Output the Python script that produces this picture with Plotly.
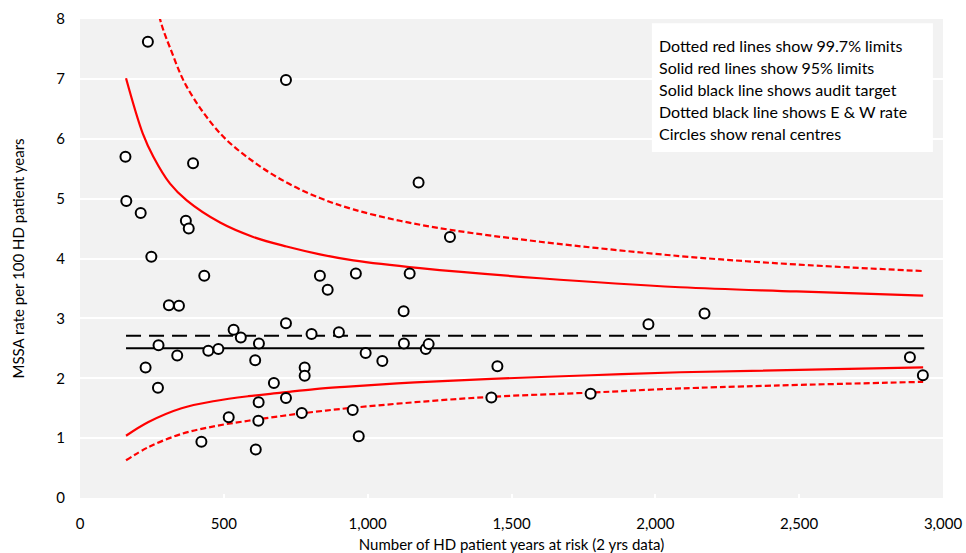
import plotly.graph_objects as go

# ---- Renal centres (patient years at risk, MSSA rate per 100 HD patient years) ----
centre_years = [158, 161, 211, 236, 248, 228, 271, 273, 309, 344, 338, 368, 378, 393,
                432, 422, 446, 481, 517, 534, 559, 609, 622, 611, 621, 620, 674, 716,
                716, 716, 771, 781, 781, 805, 834, 861, 900, 959, 948, 969, 993, 1051,
                1125, 1126, 1146, 1177, 1202, 1212, 1286, 1430, 1451, 1775, 1976, 2171,
                2885, 2930]
centre_rates = [5.70, 4.96, 4.76, 7.62, 4.03, 2.18, 1.84, 2.55, 3.22, 3.21, 2.38, 4.63,
                4.50, 5.59, 3.71, 0.94, 2.46, 2.49, 1.35, 2.81, 2.68, 2.30, 2.58, 0.81,
                1.60, 1.29, 1.92, 6.98, 2.92, 1.67, 1.42, 2.18, 2.04, 2.74, 3.71, 3.48,
                2.77, 3.75, 1.47, 1.03, 2.42, 2.29, 3.12, 2.58, 3.75, 5.27, 2.49, 2.57,
                4.36, 1.68, 2.20, 1.74, 2.90, 3.08, 2.35, 2.05]

# ---- Control limits ----
upper95_x = [160, 218, 255, 313, 371, 487, 602, 718, 834, 950, 1182, 1599, 2086, 2491, 2931]
upper95 = [7.01, 6.09, 5.70, 5.25, 4.97, 4.60, 4.36, 4.20, 4.07, 3.97, 3.84, 3.67, 3.52, 3.45, 3.38]

upper997_x = [160, 218, 255, 278, 290, 313, 371, 487, 602, 718, 834, 950, 1112, 1286,
              1599, 2086, 2491, 2931]
upper997 = [11.0, 9.2, 8.4, 8.0, 7.81, 7.52, 6.87, 6.09, 5.62, 5.27, 5.01, 4.82, 4.63,
            4.48, 4.28, 4.04, 3.90, 3.79]

lower_x = [160, 238, 353, 469, 585, 701, 817, 933, 1165, 1430, 1775, 2086, 2931]
lower95 = [1.04, 1.27, 1.50, 1.62, 1.70, 1.76, 1.82, 1.86, 1.93, 1.99, 2.05, 2.10, 2.18]
lower997 = [0.63, 0.85, 1.07, 1.20, 1.29, 1.37, 1.44, 1.50, 1.60, 1.69, 1.76, 1.83, 1.94]

# ---- Reference rates ----
ref_x = [160, 2935]
audit_target = 2.5
ew_rate = 2.71

# ---- Axis ticks ----
x_ticks = [0, 500, 1000, 1500, 2000, 2500, 3000]
x_tick_labels = ["0", "500", "1,000", "1,500", "2,000", "2,500", "3,000"]
y_ticks = [0, 1, 2, 3, 4, 5, 6, 7, 8]

legend_lines = [
    "Dotted red lines show 99.7% limits",
    "Solid red lines show 95% limits",
    "Solid black line shows audit target",
    "Dotted black line shows E & W rate",
    "Circles show renal centres",
]

FONT = "Lato, Open Sans, sans-serif"
RED = "#ff0000"

fig = go.Figure()

fig.add_trace(go.Scatter(x=upper997_x, y=upper997, mode="lines", line_shape="spline",
                         line=dict(color=RED, width=2.2, dash="6px,3px"), hoverinfo="skip"))
fig.add_trace(go.Scatter(x=lower_x, y=lower997, mode="lines", line_shape="spline",
                         line=dict(color=RED, width=2.2, dash="6px,3px"), hoverinfo="skip"))
fig.add_trace(go.Scatter(x=upper95_x, y=upper95, mode="lines", line_shape="spline",
                         line=dict(color=RED, width=2.2), hoverinfo="skip"))
fig.add_trace(go.Scatter(x=lower_x, y=lower95, mode="lines", line_shape="spline",
                         line=dict(color=RED, width=2.2), hoverinfo="skip"))
fig.add_trace(go.Scatter(x=ref_x, y=[audit_target] * len(ref_x), mode="lines",
                         line=dict(color="black", width=2), hoverinfo="skip"))
fig.add_trace(go.Scatter(x=ref_x, y=[ew_rate] * len(ref_x), mode="lines",
                         line=dict(color="black", width=2, dash="15px,8px"), hoverinfo="skip"))
fig.add_trace(go.Scatter(x=centre_years, y=centre_rates, mode="markers",
                         marker=dict(symbol="circle", size=10, color="white",
                                     line=dict(color="black", width=2))))

# legend box
fig.add_shape(type="rect", xref="x", yref="y", x0=1988, x1=2965, y0=5.78, y1=7.93,
              fillcolor="white", line=dict(width=0), layer="above")
for i, txt in enumerate(legend_lines):
    fig.add_annotation(x=2005, y=7.55 - i * 0.367, xref="x", yref="y", text=txt,
                       showarrow=False, xanchor="left", yanchor="middle",
                       font=dict(family=FONT, size=16, color="black"))

fig.update_layout(
    width=966, height=553,
    margin=dict(l=80, r=23, t=19, b=55),
    paper_bgcolor="white", plot_bgcolor="#f2f2f2",
    showlegend=False,
    font=dict(family=FONT, size=15, color="black"),
    xaxis=dict(range=[0, 3000], tickvals=x_ticks, ticktext=x_tick_labels,
               showgrid=False, zeroline=False, showline=False, automargin=False,
               ticks="inside", ticklen=4, tickwidth=2, tickcolor="white",
               ticklabelstandoff=15,
               title=dict(text="Number of HD patient years at risk (2 yrs data)",
                          font=dict(size=15), standoff=12)),
    yaxis=dict(range=[0, 8], tickvals=y_ticks, showgrid=True, gridcolor="white",
               gridwidth=2, zeroline=False, showline=False, automargin=False,
               ticklabelstandoff=14,
               title=dict(text="MSSA rate per 100 HD patient years",
                          font=dict(size=15), standoff=28)),
)

fig.write_html("out.html", config={"displayModeBar": False},
               post_script="document.body.style.margin='0';document.body.style.overflow='hidden';")
